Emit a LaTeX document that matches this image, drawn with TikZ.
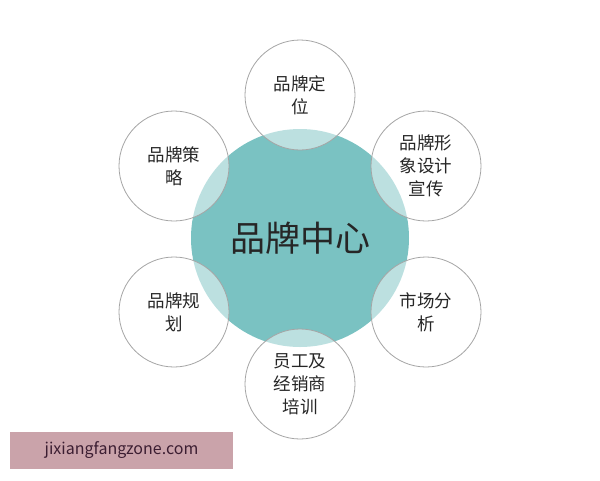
\documentclass[tikz,border=0pt]{standalone}
\usepackage{fontspec}
\setmainfont{Noto Sans CJK SC}
\definecolor{tealc}{RGB}{122,194,194}
\definecolor{ringc}{RGB}{165,165,165}
\definecolor{wmbox}{RGB}{202,163,170}
\definecolor{wmtext}{RGB}{60,30,50}
\begin{document}
\begin{tikzpicture}[x=1pt,y=-1pt,
  hub/.style={circle,fill=tealc,minimum size=218pt,inner sep=0pt,font=\fontsize{35}{40}\selectfont,text=black!85},
  petal/.style={circle,draw=ringc,line width=0.8pt,fill=white,fill opacity=0.5,text opacity=1,minimum size=110pt,inner sep=0pt,align=center,font=\fontsize{17.5}{23}\selectfont,text=black!85}]
\useasboundingbox (0,0) rectangle (600,480);
\fill[white] (0,0) rectangle (600,480);
\node[hub] (c) at (300,238) {品牌中心};
\node[petal] (p1) at (300,95) {品牌定\\位};
\node[petal] (p2) at (426,166) {品牌形\\象设计\\宣传};
\node[petal] (p3) at (426,312) {市场分\\析};
\node[petal] (p4) at (300,384) {员工及\\经销商\\培训};
\node[petal] (p5) at (174,312) {品牌规\\划};
\node[petal] (p6) at (174,166) {品牌策\\略};
\node[fill=wmbox,minimum width=223pt,minimum height=37pt,inner sep=0pt,text=wmtext,font=\fontsize{16}{18}\selectfont] (wm) at (121.5,450.5) {jixiangfangzone.com};
\end{tikzpicture}
\end{document}
